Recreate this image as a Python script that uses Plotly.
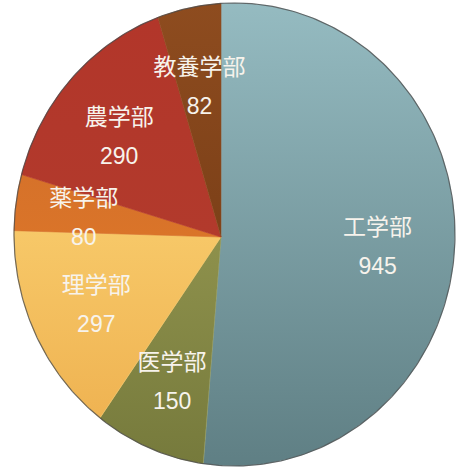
import numpy as np
import plotly.graph_objects as go

# ---- data ----
labels = ["工学部", "医学部", "理学部", "薬学部", "農学部", "教養学部"]
values = [945, 150, 297, 80, 290, 82]
top_colors = ["#95bbc1", "#8e914c", "#f7c868", "#d6722a", "#b2362a", "#8e4c1f"]
bottom_colors = ["#5f7f84", "#767a3c", "#efb352", "#da7429", "#b23a2c", "#7c4018"]

# ---- geometry (pixel space) ----
W, H = 457, 473
AX, AY = 221.0, 237.0          # apex of slices
CX, CY = 234.5, 234.5          # outline ellipse centre
RX, RY = 220.5, 231.5


def edge_point(theta):
    dx, dy = np.sin(theta), -np.cos(theta)
    x0, y0 = AX - CX, AY - CY
    a = (dx / RX) ** 2 + (dy / RY) ** 2
    b = 2 * (x0 * dx / RX ** 2 + y0 * dy / RY ** 2)
    c = (x0 / RX) ** 2 + (y0 / RY) ** 2 - 1
    t = (-b + np.sqrt(b * b - 4 * a * c)) / (2 * a)
    return AX + t * dx, AY + t * dy, t


total = float(sum(values))
fig = go.Figure()
cum = 0.0
label_pts = []
for lab, v, c1, c2 in zip(labels, values, top_colors, bottom_colors):
    t0 = cum / total * 2 * np.pi
    t1 = (cum + v) / total * 2 * np.pi
    cum += v
    thetas = np.linspace(t0, t1, max(8, int(v / total * 400)))
    xs, ys = [AX], [AY]
    for th in thetas:
        x, y, _ = edge_point(th)
        xs.append(x)
        ys.append(y)
    xs.append(AX)
    ys.append(AY)
    fig.add_trace(go.Scatter(
        x=xs, y=ys, mode="lines", fill="toself",
        line=dict(width=0.6, color=c1),
        fillgradient=dict(type="vertical", colorscale=[[0, c2], [1, c1]]),
        hoverinfo="skip", showlegend=False,
    ))
    mid = (t0 + t1) / 2
    ex, ey, t = edge_point(mid)
    f = 0.67
    label_pts.append((lab, v, AX + (ex - AX) * f, AY + (ey - AY) * f))

# outline
th = np.linspace(0, 2 * np.pi, 400)
fig.add_trace(go.Scatter(
    x=CX + RX * np.sin(th), y=CY - RY * np.cos(th), mode="lines",
    line=dict(color="rgba(70,70,70,0.75)", width=1.2),
    hoverinfo="skip", showlegend=False,
))

font = dict(family="Liberation Sans, Noto Sans CJK JP", size=23, color="#f7f3ec")
fig.add_trace(go.Scatter(
    x=[p[2] for p in label_pts], y=[p[3] - 14 for p in label_pts],
    text=[p[0] for p in label_pts], mode="text", textfont=font,
    hoverinfo="skip", showlegend=False,
))
fig.add_trace(go.Scatter(
    x=[p[2] for p in label_pts], y=[p[3] + 25 for p in label_pts],
    text=[str(p[1]) for p in label_pts], mode="text", textfont=font,
    hoverinfo="skip", showlegend=False,
))

fig.update_layout(
    width=W, height=H,
    margin=dict(l=0, r=0, t=0, b=0),
    paper_bgcolor="white", plot_bgcolor="white",
    xaxis=dict(range=[0, W], visible=False, fixedrange=True),
    yaxis=dict(range=[H, 0], visible=False, fixedrange=True),
)
fig.write_html("out.html")
